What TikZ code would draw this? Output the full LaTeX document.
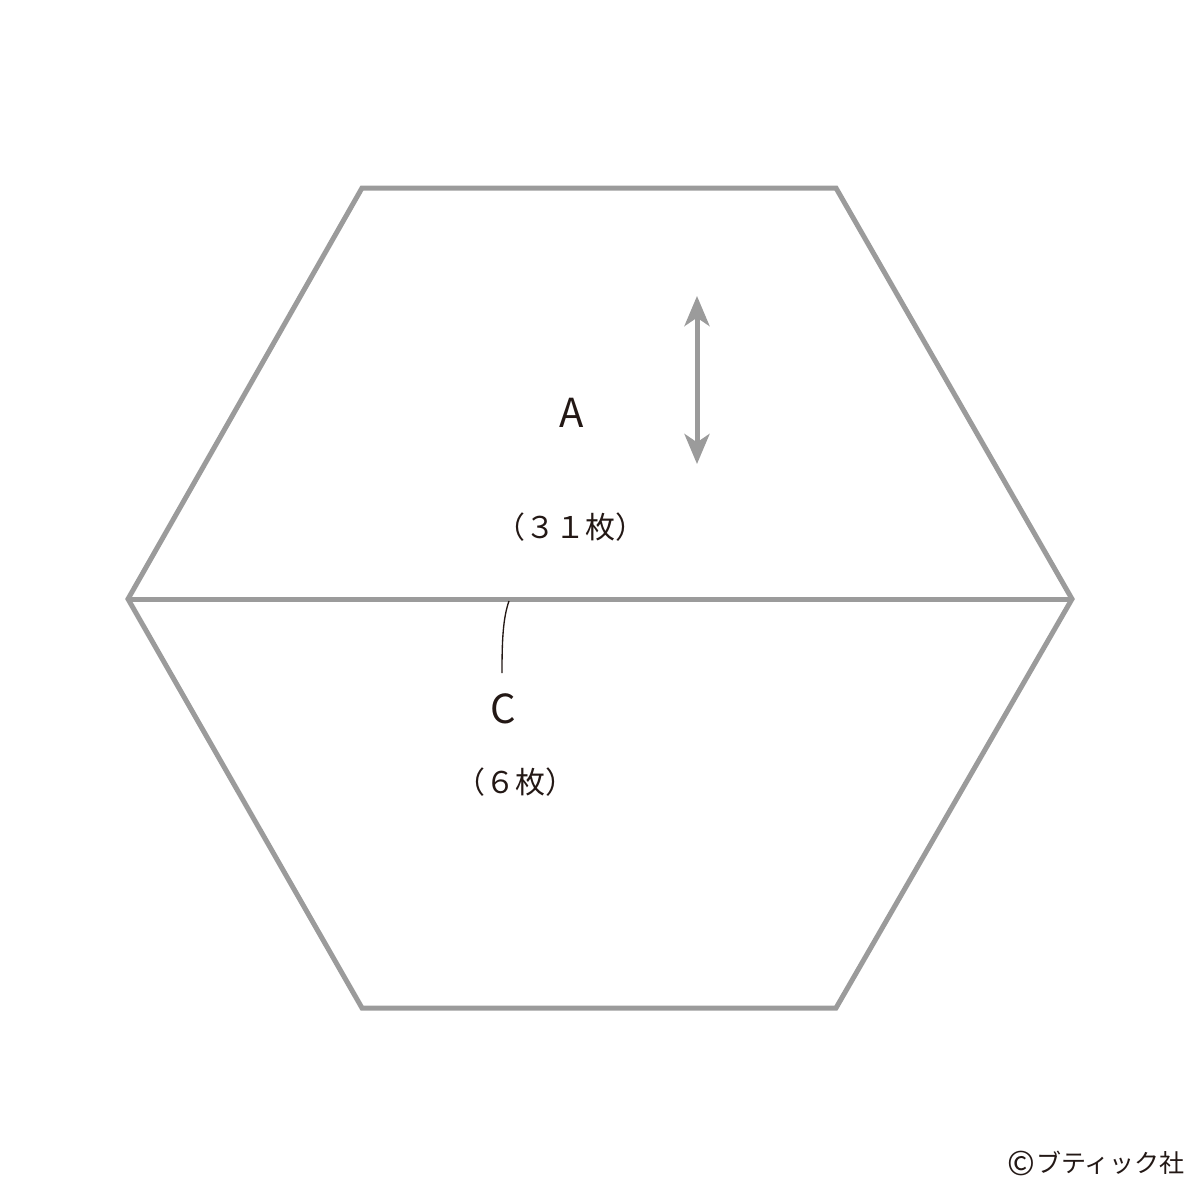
\documentclass[tikz,border=0pt]{standalone}
\usepackage{fontspec}
\setmainfont{Noto Sans CJK JP}
\newfontfamily\jp{Noto Sans CJK JP}
\usetikzlibrary{arrows.meta}
\definecolor{lgray}{RGB}{155,155,155}
\definecolor{ink}{RGB}{35,24,21}
\tikzset{
  edge/.style={draw=lgray, line width=3pt, line join=miter},
  lbl/.style={text=ink, inner sep=0pt, font=\jp},
}
\begin{document}
\begin{tikzpicture}[x=0.6pt, y=-0.6pt]
\useasboundingbox (0,0) rectangle (1200,1200);
\coordinate (tl) at (362,188);
\coordinate (tr) at (836,188);
\coordinate (r) at (1072,599);
\coordinate (br) at (836,1008);
\coordinate (bl) at (362,1008);
\coordinate (l) at (128,599);
\draw[edge] (tl) -- (tr) -- (r) -- (br) -- (bl) -- (l) -- cycle;
\draw[edge] (l) -- (r);
\coordinate (au) at (697,296);
\coordinate (ad) at (697,464);
\draw[draw=lgray, line width=3pt, {Stealth[width=15pt,length=18pt,inset=5pt]}-{Stealth[width=15pt,length=18pt,inset=5pt]}] (au) -- (ad);
\node[lbl, font=\jp\fontsize{24}{24}\selectfont] (A) at (572,413) {A};
\node[lbl, font=\jp\fontsize{18}{18}\selectfont] (An) at (570,527) {（３１枚）};
\node[lbl, font=\jp\fontsize{24}{24}\selectfont] (C) at (503,709) {C};
\node[lbl, font=\jp\fontsize{18}{18}\selectfont] (Cn) at (515,782) {（６枚）};
\coordinate (ct) at (509,601);
\coordinate (cb) at (502,673);
\draw[ink, line width=0.8pt] (ct) .. controls (503,618) and (502,640) .. (cb);
\node[lbl, font=\jp\fontsize{15}{15}\selectfont] (cp) at (1096,1163) {\raisebox{-0.12em}{\fontsize{20}{20}\selectfont ©}\kern1pt ブティック社};
\end{tikzpicture}
\end{document}
